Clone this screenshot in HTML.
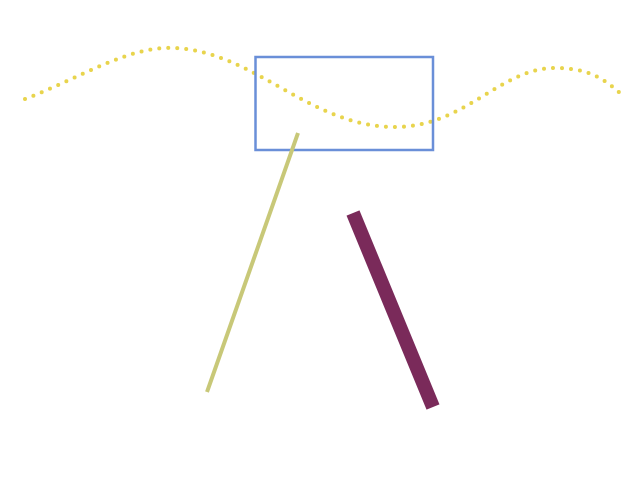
<!DOCTYPE html>
<html><head><style>html,body{margin:0;padding:0;background:#fff;}</style></head>
<body>
<svg width="640" height="480" viewBox="0 0 640 480" xmlns="http://www.w3.org/2000/svg">
<rect x="0" y="0" width="640" height="480" fill="#fff"/>
<path d="M25,99 C80,78 130,45 175,48 C255,52 310,127 395,127 C465,127 500,68 555,68 C590,68 605,80 620,93" fill="none" stroke="#e8d44d" stroke-width="4" stroke-linecap="round" stroke-dasharray="0 9"/>
<rect x="255.5" y="57" width="177.5" height="93" fill="none" stroke="#6a8fd8" stroke-width="2.5"/>
<line x1="298" y1="133" x2="207" y2="392" stroke="#c8c878" stroke-width="4"/>
<line x1="353" y1="213" x2="433" y2="407" stroke="#7a2a5a" stroke-width="14"/>
</svg>
</body></html>
